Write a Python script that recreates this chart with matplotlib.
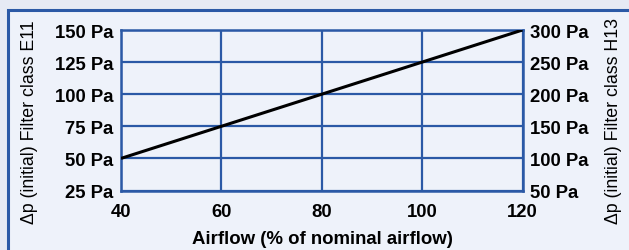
import matplotlib
matplotlib.use("Agg")
import matplotlib.pyplot as plt
from matplotlib.patches import Rectangle

airflow = [40, 120]
dp_e11 = [50, 150]
x_ticks = [40, 60, 80, 100, 120]
left_ticks = [25, 50, 75, 100, 125, 150]
right_ticks = [50, 100, 150, 200, 250, 300]
x_label = "Airflow (% of nominal airflow)"
left_label = "Δp (initial) Filter class E11"
right_label = "Δp (initial) Filter class H13"

blue = "#2b59a6"
bg_in = "#eef2fa"
bg_out = "#e6eaf4"

plt.rcParams['font.family'] = ['Liberation Sans', 'DejaVu Sans']

fig = plt.figure(figsize=(6.29, 2.51), dpi=100)
fig.patch.set_facecolor(bg_out)
W, H = 629, 251
fig.patches.append(Rectangle((8 / W, -0.1), 1, 1.1 - 11 / H, transform=fig.transFigure,
                             facecolor=bg_in, edgecolor=blue, linewidth=2.2, zorder=-5))

ax = fig.add_axes([121 / W, 1 - 191.5 / H, 401.5 / W, 160.5 / H])
ax.set_facecolor(bg_in)
ax.plot(airflow, dp_e11, color="black", linewidth=2.2, zorder=5, solid_capstyle='butt')
ax.set_xlim(40, 120)
ax.set_ylim(25, 150)
ax.set_xticks(x_ticks)
ax.set_yticks(left_ticks)
ax.set_yticklabels([f"{v} Pa" for v in left_ticks])
ax.grid(True, color=blue, linewidth=1.6)
for s in ax.spines.values():
    s.set_color(blue)
    s.set_linewidth(1.8)
ax.tick_params(length=0, labelsize=13.3)
ax.tick_params(axis='y', pad=5.5)
ax.tick_params(axis='x', pad=9)
for lab in ax.get_xticklabels() + ax.get_yticklabels():
    lab.set_fontweight('bold')

ax2 = ax.twinx()
ax2.set_ylim(50, 300)
ax2.set_yticks(right_ticks)
ax2.set_yticklabels([f"{v} Pa" for v in right_ticks])
ax2.tick_params(length=0, labelsize=13.3, pad=5.5)
for lab in ax2.get_yticklabels():
    lab.set_fontweight('bold')
for s in ax2.spines.values():
    s.set_visible(False)

fig.text(322 / W, 1 - 240 / H, x_label, fontsize=13.4, fontweight='bold',
         ha='center', va='center')
fig.text(29.5 / W, 1 - 122 / H, left_label, fontsize=12.8, rotation=90,
         ha='center', va='center')
fig.text(613 / W, 1 - 120.5 / H, right_label, fontsize=12.8, rotation=90,
         ha='center', va='center')

fig.savefig("out.png", dpi=100, facecolor=fig.get_facecolor())
